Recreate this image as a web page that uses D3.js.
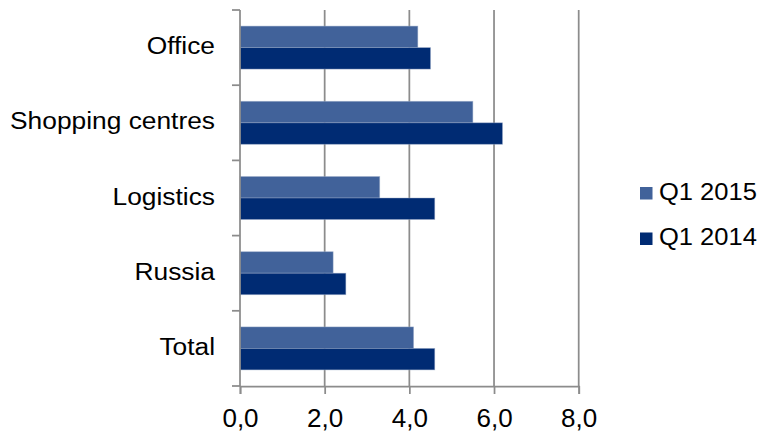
<!DOCTYPE html>
<html>
<head>
<meta charset="utf-8">
<script src="https://cdn.jsdelivr.net/npm/d3@7"></script>
<style>
  html, body { margin: 0; padding: 0; background: #ffffff; }
  svg text { font-family: "Liberation Sans", Arial, sans-serif; fill: #000; }
</style>
</head>
<body>
<svg id="chart" width="763" height="432"></svg>
<script>
// Yields by property segment, %
const categories = ["Office", "Shopping centres", "Logistics", "Russia", "Total"];
const seriesNames = ["Q1 2015", "Q1 2014"];
const q1_2015 = [4.2, 5.5, 3.3, 2.2, 4.1];
const q1_2014 = [4.5, 6.2, 4.6, 2.5, 4.6];
const xTicks = [0, 2, 4, 6, 8];
const xTickLabels = ["0,0", "2,0", "4,0", "6,0", "8,0"];

const colors = ["#41629a", "#002b73"];
const series = [q1_2015, q1_2014];

const svg = d3.select("#chart");
const plot = { left: 240, right: 578.7, top: 10, bottom: 386 };
const textStretch = 1.145; // labels use a slightly widened face

const x = d3.scaleLinear().domain([0, 8]).range([plot.left, plot.right]);
const y = d3.scaleBand().domain(categories).range([plot.top, plot.bottom]).padding(0);

// Gap width of 150% between category groups
const bw = y.bandwidth();
const barH = bw / 3.5;
const groupOffset = (bw - 2 * barH) / 2;

// Vertical gridlines
svg.append("g")
  .selectAll("line")
  .data(xTicks.slice(1))
  .join("line")
  .attr("x1", d => x(d)).attr("x2", d => x(d))
  .attr("y1", plot.top).attr("y2", plot.bottom)
  .attr("stroke", "#8c8c8c")
  .attr("stroke-width", 1.75);

// Bars
series.forEach((vals, si) => {
  svg.append("g")
    .selectAll("rect")
    .data(categories)
    .join("rect")
    .attr("x", x(0))
    .attr("y", (c) => y(c) + groupOffset + si * barH)
    .attr("width", (c, i) => x(vals[i]) - x(0))
    .attr("height", barH)
    .attr("fill", colors[si])
    .attr("stroke", "#9aacc8")
    .attr("stroke-opacity", 0.55)
    .attr("stroke-width", 0.8);
});

// Category axis
const yAxis = svg.append("g")
  .attr("transform", `translate(${plot.left},0)`);
yAxis.append("line")
  .attr("x1", 0).attr("x2", 0).attr("y1", plot.top).attr("y2", plot.bottom)
  .attr("stroke", "#8c8c8c").attr("stroke-width", 1.75);
const bounds = categories.map(c => y(c)).concat([plot.bottom]);
yAxis.selectAll("line.tick")
  .data(bounds)
  .join("line")
  .attr("class", "tick")
  .attr("x1", -8).attr("x2", 0)
  .attr("y1", d => d).attr("y2", d => d)
  .attr("stroke", "#8c8c8c").attr("stroke-width", 1.75);
yAxis.selectAll("text")
  .data(categories)
  .join("text")
  .attr("transform", c => `translate(-25,${y(c) + bw / 2 + 6.5}) scale(${textStretch},1)`)
  .attr("text-anchor", "end")
  .attr("font-size", 23)
  .text(c => c);

// Value axis
const xAxis = d3.axisBottom(x)
  .tickValues(xTicks)
  .tickSize(8)
  .tickPadding(0)
  .tickFormat((d, i) => xTickLabels[i]);
const gx = svg.append("g")
  .attr("transform", `translate(0,${plot.bottom})`)
  .call(xAxis);
gx.select(".domain").attr("stroke", "#8c8c8c").attr("stroke-width", 1.75);
gx.selectAll(".tick line").attr("stroke", "#8c8c8c").attr("stroke-width", 1.75);
gx.selectAll(".tick text")
  .attr("font-size", 26)
  .attr("font-family", "Liberation Sans, Arial, sans-serif")
  .attr("fill", "#000")
  .attr("dy", null)
  .attr("y", 41);

// Legend
const legend = svg.append("g");
const legendRows = seriesNames.map((name, i) => ({ name, color: colors[i], baseline: 199.5 + i * 45.5 }));
legend.selectAll("rect")
  .data(legendRows)
  .join("rect")
  .attr("x", 640)
  .attr("y", d => d.baseline - 12.5)
  .attr("width", 12.5)
  .attr("height", 12.5)
  .attr("fill", d => d.color);
legend.selectAll("text")
  .data(legendRows)
  .join("text")
  .attr("transform", d => `translate(659,${d.baseline}) scale(1.11,1)`)
  .attr("font-size", 23)
  .text(d => d.name);
</script>
</body>
</html>
